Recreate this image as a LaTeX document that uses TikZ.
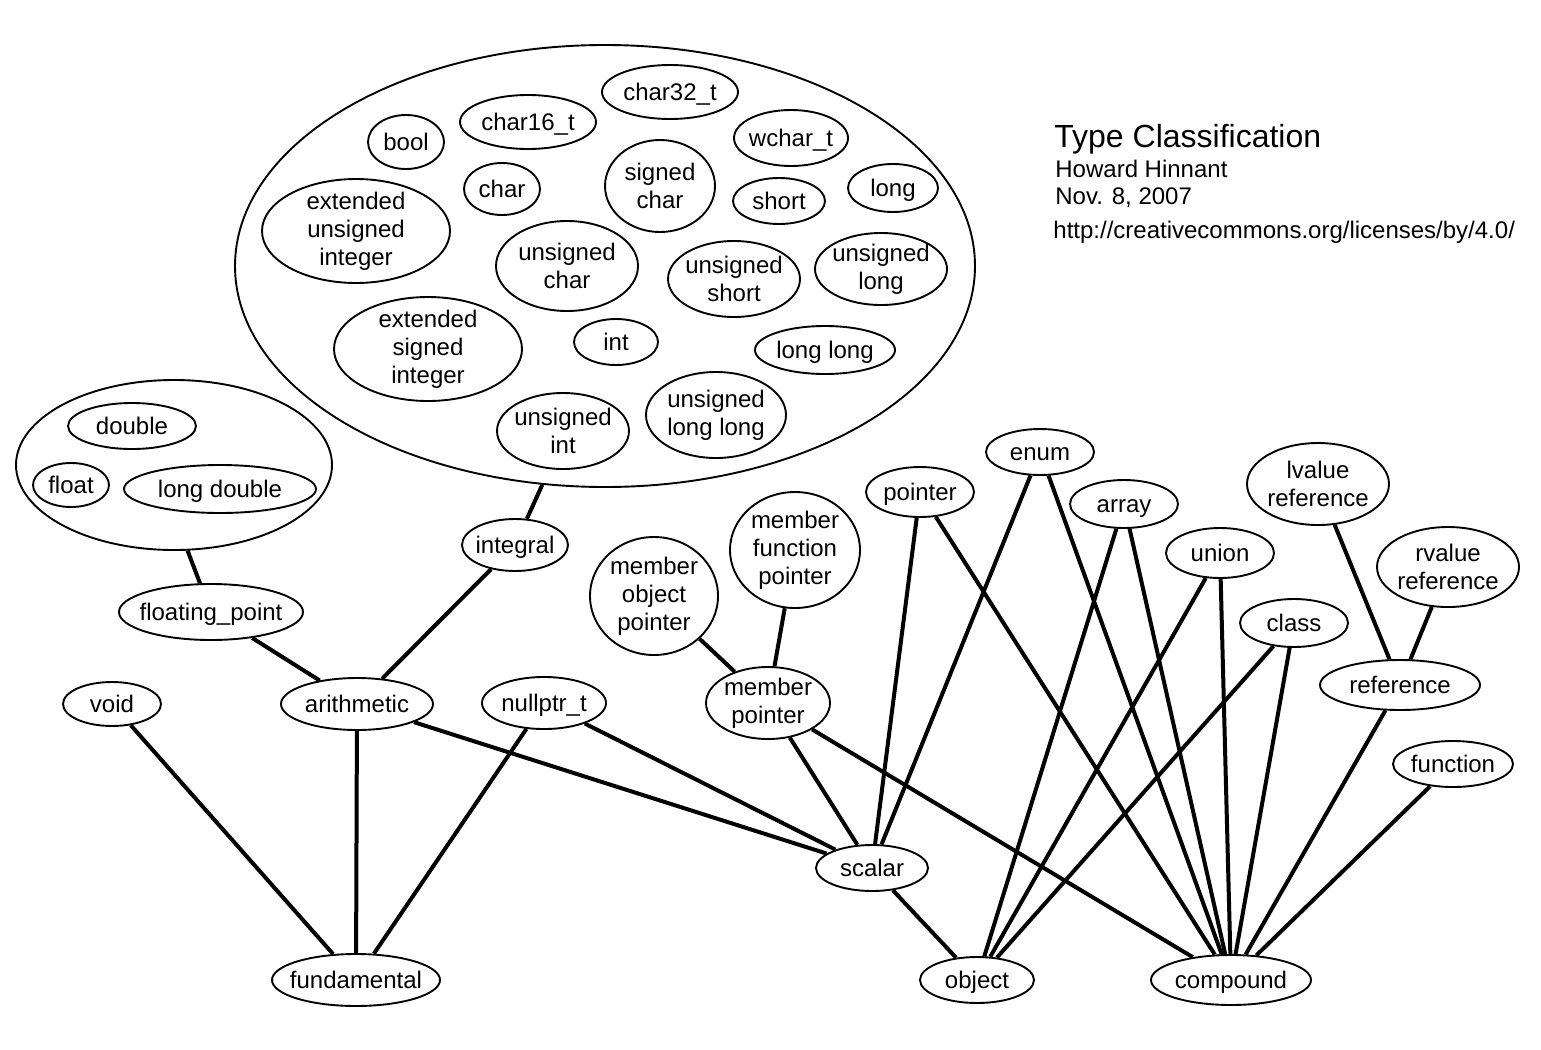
\documentclass[tikz,border=0pt]{standalone}
\usepackage{fontspec}
\setmainfont{Liberation Sans}
\usetikzlibrary{shapes.geometric}
\begin{document}
\begin{tikzpicture}[x=0.5pt,y=-0.5pt,
  ell/.style={ellipse,draw,line width=0.95pt,inner xsep=-12pt,inner ysep=-6pt,align=center,font=\fontsize{12}{14}\selectfont},
  one/.style={text height=8.6pt,text depth=0pt},
  ml/.style={execute at begin node={\rule{0pt}{11pt}}},
  sz/.style 2 args={minimum width=#1pt,minimum height=#2pt},
  link/.style={line width=2pt},
  caption/.style={anchor=base west,inner sep=0pt,font=\fontsize{12}{14}\selectfont}]
\useasboundingbox (0,0) rectangle (1541,1049);
% containers
\node[ell,sz={370}{221}] (big) at (605,266) {};
\node[ell,sz={158}{85}] (fl) at (174,465) {};
% integer types
\node[ell,one,sz={68}{27}] (c32) at (670,92) {char32\_t};
\node[ell,one,sz={68}{27}] (c16) at (528,122) {char16\_t};
\node[ell,one,sz={38}{27}] (bool) at (406,142) {bool};
\node[ell,one,sz={57}{28}] (wchar) at (791,138) {wchar\_t};
\node[ell,one,sz={38}{26}] (char) at (502,189) {char};
\node[ell,ml,sz={55}{46}] (schar) at (660,186) {signed\\char};
\node[ell,one,sz={46}{23}] (short) at (779,201) {short};
\node[ell,one,sz={45}{24}] (long) at (893,188) {long};
\node[ell,ml,sz={94}{52}] (eui) at (356,231) {extended\\unsigned\\integer};
\node[ell,ml,sz={71}{45}] (uchar) at (567,266) {unsigned\\char};
\node[ell,ml,sz={66}{38}] (ushort) at (734,279) {unsigned\\short};
\node[ell,ml,sz={66}{36}] (ulong) at (881,269) {unsigned\\long};
\node[ell,ml,sz={94}{52}] (esi) at (428,349) {extended\\signed\\integer};
\node[ell,one,sz={42}{23}] (int) at (616,342) {int};
\node[ell,one,sz={70}{24}] (llong) at (825,350) {long long};
\node[ell,ml,sz={66}{38}] (uint) at (563,431) {unsigned\\int};
\node[ell,ml,sz={70}{43}] (ullong) at (716,415) {unsigned\\long long};
% floating types
\node[ell,one,sz={64}{23}] (double) at (132,426) {double};
\node[ell,one,sz={38}{22}] (float) at (71,485) {float};
\node[ell,one,sz={96}{24}] (ldouble) at (220,489) {long double};
% categories
\node[ell,one,sz={53}{26}] (integral) at (515,545) {integral};
\node[ell,one,sz={92}{28}] (floating) at (211,612) {floating\_point};
\node[ell,one,sz={49}{22}] (void) at (112,704) {void};
\node[ell,one,sz={76}{26}] (arith) at (357,704) {arithmetic};
\node[ell,one,sz={62}{26}] (nullptr) at (544,703) {nullptr\_t};
\node[ell,ml,sz={64}{59}] (mop) at (654,596) {member\\object\\pointer};
\node[ell,ml,sz={65}{58}] (mfp) at (795,550) {member\\function\\pointer};
\node[ell,ml,sz={62}{36}] (mp) at (768,703) {member\\pointer};
\node[ell,one,sz={54}{25}] (pointer) at (920,492) {pointer};
\node[ell,one,sz={54}{23}] (enum) at (1040,452) {enum};
\node[ell,one,sz={54}{24}] (array) at (1124,504) {array};
\node[ell,ml,sz={71}{41}] (lref) at (1318,484) {lvalue\\reference};
\node[ell,one,sz={54}{25}] (union) at (1220,553) {union};
\node[ell,ml,sz={71}{40}] (rref) at (1448,567) {rvalue\\reference};
\node[ell,one,sz={54}{24}] (class) at (1294,623) {class};
\node[ell,one,sz={80}{25}] (reference) at (1400,685) {reference};
\node[ell,one,sz={60}{23}] (function) at (1453,764) {function};
\node[ell,one,sz={56}{23}] (scalar) at (872,868) {scalar};
\node[ell,one,sz={84}{26}] (fund) at (356,980) {fundamental};
\node[ell,one,sz={57}{23}] (object) at (977,980) {object};
\node[ell,one,sz={80}{25}] (compound) at (1231,980) {compound};
% caption
\node[caption,font=\fontsize{16}{19}\selectfont] (title) at (1054,147) {Type Classification};
\node[caption] (author) at (1055,177) {Howard Hinnant};
\node[caption] (date) at (1055,204) {Nov. 8, 2007};
\node[caption] (url) at (1053,238) {http://creativecommons.org/licenses/by/4.0/};
% connectors
\draw[link] (big.-106.6) -- (integral);
\draw[link] (fl.-81) -- (floating);
\draw[link] (floating) -- (arith);
\draw[link] (integral) -- (arith);
\draw[link] (arith) -- (fund);
\draw[link] (void) -- (fund);
\draw[link] (nullptr) -- (fund);
\draw[link] (arith) -- (scalar);
\draw[link] (nullptr) -- (scalar);
\draw[link] (mop) -- (mp);
\draw[link] (mfp) -- (mp);
\draw[link] (mp) -- (scalar);
\draw[link] (mp) -- (compound);
\draw[link] (pointer) -- (scalar);
\draw[link] (pointer) -- (compound);
\draw[link] (enum) -- (scalar);
\draw[link] (enum) -- (compound);
\draw[link] (array) -- (object);
\draw[link] (array) -- (compound);
\draw[link] (union) -- (object);
\draw[link] (union) -- (compound);
\draw[link] (class) -- (object);
\draw[link] (class) -- (compound);
\draw[link] (lref) -- (reference);
\draw[link] (rref) -- (reference);
\draw[link] (reference) -- (compound);
\draw[link] (function) -- (compound);
\draw[link] (scalar) -- (object);
\end{tikzpicture}
\end{document}
